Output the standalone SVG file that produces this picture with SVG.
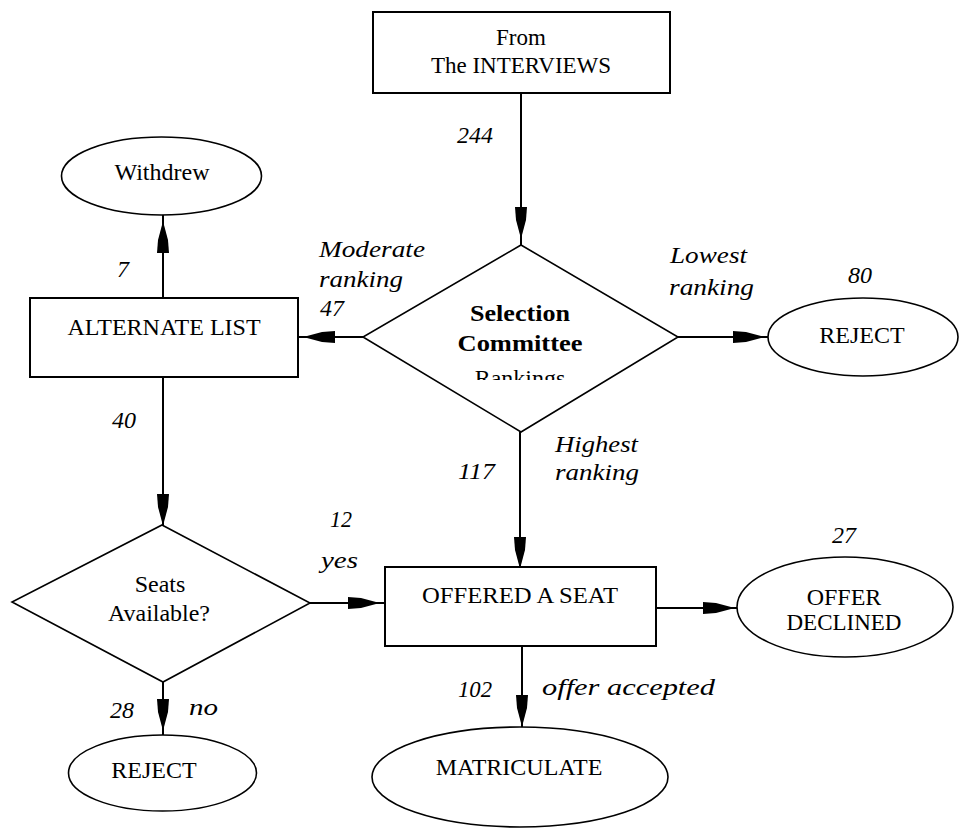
<svg xmlns="http://www.w3.org/2000/svg" width="961" height="829" viewBox="0 0 961 829">
<style>
.n{fill:#fff;stroke:#000;stroke-width:2}
.e{fill:#fff;stroke:#000;stroke-width:1.6}
.c{fill:none;stroke:#000;stroke-width:2}
.t{font-family:"Liberation Serif","Times New Roman",serif;font-size:24px;fill:#000;text-anchor:middle}
.i{font-family:"Liberation Serif","Times New Roman",serif;font-size:24px;font-style:italic;fill:#000}
.b{font-weight:bold}
</style>
<defs>
<path id="ah" d="M-6,-28 L6,-28 L5,-15 L1,0 L-1,0 L-5,-15 Z" fill="#000"/>
<clipPath id="clipR"><rect x="400" y="355" width="240" height="25"/></clipPath>
</defs>
<rect width="961" height="829" fill="#fff"/>

<g id="connectors">
<line class="c" x1="521" y1="93" x2="521" y2="245"/>
<use href="#ah" transform="translate(521,235)"/>
<line class="c" x1="163" y1="298" x2="163" y2="215"/>
<use href="#ah" transform="translate(163,225) rotate(180)"/>
<line class="c" x1="363" y1="337" x2="298" y2="337"/>
<use href="#ah" transform="translate(307,337) rotate(90)"/>
<line class="c" x1="678" y1="337" x2="768" y2="337"/>
<use href="#ah" transform="translate(761,337) rotate(-90)"/>
<line class="c" x1="163" y1="377" x2="163" y2="525"/>
<use href="#ah" transform="translate(163,522)"/>
<line class="c" x1="310" y1="603" x2="385" y2="603"/>
<use href="#ah" transform="translate(376,603) rotate(-90)"/>
<line class="c" x1="163" y1="682" x2="163" y2="735"/>
<use href="#ah" transform="translate(163,727)"/>
<line class="c" x1="520" y1="432" x2="520" y2="567"/>
<use href="#ah" transform="translate(520,565)"/>
<line class="c" x1="656" y1="608" x2="737" y2="608"/>
<use href="#ah" transform="translate(731,608) rotate(-90)"/>
<line class="c" x1="522" y1="646" x2="522" y2="727"/>
<use href="#ah" transform="translate(522,723)"/>
</g>

<g id="labels">
<text class="i" x="457" y="143">244</text>
<text class="i" x="117" y="277">7</text>
<text class="i" x="319" y="257" textLength="106" lengthAdjust="spacingAndGlyphs">Moderate</text>
<text class="i" x="319" y="287" textLength="84" lengthAdjust="spacingAndGlyphs">ranking</text>
<text class="i" x="320" y="316">47</text>
<text class="i" x="670" y="263" textLength="77" lengthAdjust="spacingAndGlyphs">Lowest</text>
<text class="i" x="669" y="295" textLength="85" lengthAdjust="spacingAndGlyphs">ranking</text>
<text class="i" x="848" y="283">80</text>
<text class="i" x="555" y="452" textLength="83" lengthAdjust="spacingAndGlyphs">Highest</text>
<text class="i" x="555" y="480" textLength="84" lengthAdjust="spacingAndGlyphs">ranking</text>
<text class="i" x="458" y="479" textLength="37" lengthAdjust="spacingAndGlyphs">117</text>
<text class="i" x="112" y="428">40</text>
<text class="i" x="330" y="527" textLength="22" lengthAdjust="spacingAndGlyphs">12</text>
<text class="i" x="321" y="568" textLength="37" lengthAdjust="spacingAndGlyphs">yes</text>
<text class="i" x="110" y="718">28</text>
<text class="i" x="189" y="715" textLength="29" lengthAdjust="spacingAndGlyphs">no</text>
<text class="i" x="832" y="543">27</text>
<text class="i" x="458" y="697" textLength="34" lengthAdjust="spacingAndGlyphs">102</text>
<text class="i" x="542" y="695" textLength="173" lengthAdjust="spacingAndGlyphs">offer accepted</text>
</g>

<g id="node-interviews">
<rect class="n" x="373" y="12" width="297" height="81"/>
<text class="t" x="521" y="45" style="font-size:23px">From</text>
<text class="t" x="521" y="73" style="font-size:23px">The INTERVIEWS</text>
</g>

<g id="node-selection">
<polygon class="e" points="521,245 678,337 521,432 363,337"/>
<text class="t b" x="520" y="321" textLength="100" lengthAdjust="spacingAndGlyphs">Selection</text>
<text class="t b" x="520" y="351" textLength="125" lengthAdjust="spacingAndGlyphs">Committee</text>
<text class="t" x="520" y="386" clip-path="url(#clipR)">Rankings</text>
</g>

<g id="node-withdrew">
<ellipse class="e" cx="161.5" cy="176" rx="100" ry="39"/>
<text class="t" x="162" y="180">Withdrew</text>
</g>

<g id="node-alternate">
<rect class="n" x="30" y="298" width="268" height="79"/>
<text class="t" x="164" y="335">ALTERNATE LIST</text>
</g>

<g id="node-reject-right">
<ellipse class="e" cx="863" cy="337" rx="95" ry="39"/>
<text class="t" x="862" y="343">REJECT</text>
</g>

<g id="node-seats">
<polygon class="e" points="162,525 310,603 163,682 12,602"/>
<text class="t" x="160" y="592">Seats</text>
<text class="t" x="159" y="621" textLength="102" lengthAdjust="spacingAndGlyphs">Available?</text>
</g>

<g id="node-offered">
<rect class="n" x="385" y="567" width="271" height="79"/>
<text class="t" x="520" y="603" textLength="196" lengthAdjust="spacingAndGlyphs">OFFERED A SEAT</text>
</g>

<g id="node-declined">
<ellipse class="e" cx="845" cy="607" rx="108" ry="50"/>
<text class="t" x="844" y="605">OFFER</text>
<text class="t" x="844" y="630" style="font-size:23px">DECLINED</text>
</g>

<g id="node-reject-bottom">
<ellipse class="e" cx="162.5" cy="773" rx="94" ry="38"/>
<text class="t" x="154" y="778">REJECT</text>
</g>

<g id="node-matriculate">
<ellipse class="e" cx="520" cy="777" rx="148" ry="50"/>
<text class="t" x="519" y="775">MATRICULATE</text>
</g>
</svg>
